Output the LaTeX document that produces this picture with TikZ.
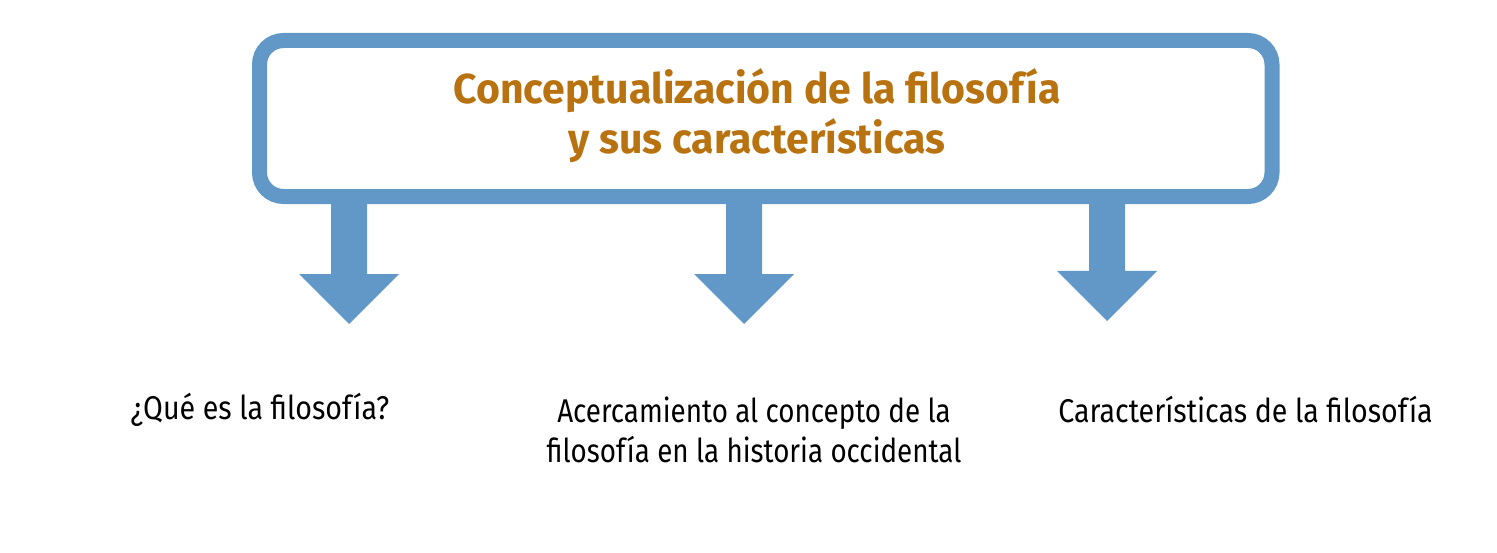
\documentclass[tikz,border=0pt]{standalone}
\usepackage{fontspec}
\setmainfont{Fira Sans}[FakeStretch=0.87]
\newfontfamily\titlefont{Fira Sans}[FakeStretch=0.98]
\newfontfamily\midfont{Fira Sans}[FakeStretch=0.845]
\definecolor{boxblue}{HTML}{6298C8}
\definecolor{titlebrown}{HTML}{B87310}
\tikzset{
  frame/.style={draw=boxblue, line width=15bp, rounded corners=24bp, fill=white, outer sep=0pt},
  titletext/.style={font=\titlefont\bfseries\fontsize{42}{50}\selectfont, text=titlebrown, align=center, inner sep=0pt},
  labeltext/.style={font=\fontsize{33}{40}\selectfont, text=black, align=center, inner sep=0pt},
  blockarrow/.style={fill=boxblue, draw=none}
}
\begin{document}
\begin{tikzpicture}[x=1bp,y=-1bp]
\useasboundingbox (0,0) rectangle (1497,553);
% arrows (drawn first, box on top)
\foreach \name/\cx/\ht/\tp in {a1/349/274/324, a2/744/274/324, a3/1107/271/321}{
  \coordinate (\name) at (\cx,196);
  \fill[blockarrow] ([xshift=-18bp]\name) -- ([xshift=-18bp]\name |- 0,\ht) -- ([xshift=-50bp]\name |- 0,\ht)
     -- (\cx,\tp) -- ([xshift=50bp]\name |- 0,\ht) -- ([xshift=18bp]\name |- 0,\ht) -- ([xshift=18bp]\name) -- cycle;
}
\node[frame, minimum width=1012.5bp, minimum height=156bp, anchor=north west] (box) at (259.5,40.5) {};
\node[titletext, anchor=center] (title) at (757,116) {Conceptualización de la filosofía\\y sus características};
\node[labeltext, anchor=center] (l1) at (260,410) {¿Qué es la filosofía?};
\node[labeltext, font=\midfont\fontsize{33}{40}\selectfont, anchor=center] (l2) at (754,430) {Acercamiento al concepto de la\\filosofía en la historia occidental};
\node[labeltext, anchor=center] (l3) at (1245.5,410) {Características de la filosofía};
\end{tikzpicture}
\end{document}
